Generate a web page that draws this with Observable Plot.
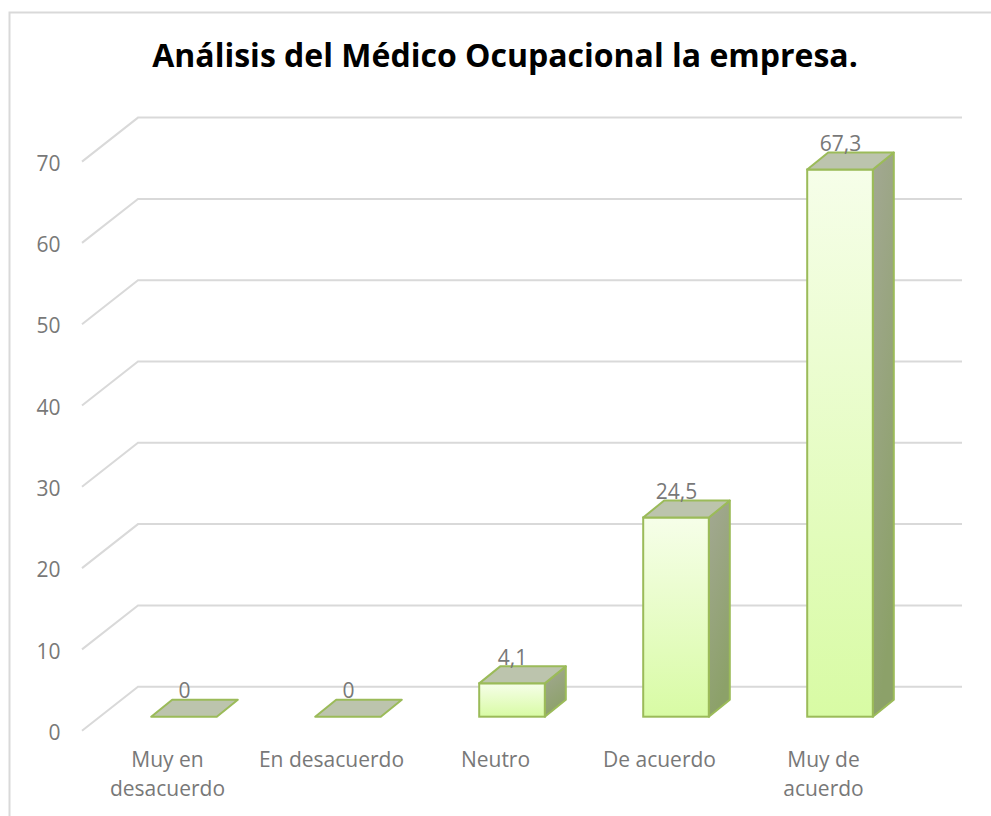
<!DOCTYPE html>
<html>
<head>
<meta charset="utf-8">
<script src="https://cdn.jsdelivr.net/npm/d3@7"></script>
<script src="https://cdn.jsdelivr.net/npm/@observablehq/plot@0.6"></script>
<style>
  html, body { margin: 0; padding: 0; background: #ffffff; }
  #chart { width: 991px; height: 816px; overflow: hidden; }
</style>
</head>
<body>
<div id="chart"></div>
<script>
// ---- data ----
const title = "Análisis del Médico Ocupacional la empresa.";
const categories = ["Muy en desacuerdo", "En desacuerdo", "Neutro", "De acuerdo", "Muy de acuerdo"];
const categoryLabels = ["Muy en\ndesacuerdo", "En desacuerdo", "Neutro", "De acuerdo", "Muy de\nacuerdo"];
const values = [0, 0, 4.1, 24.5, 67.3];
const valueLabels = ["0", "0", "4,1", "24,5", "67,3"];
const yTicks = [0, 10, 20, 30, 40, 50, 60, 70];

const rows = categories.map((c, i) => ({category: c, label: categoryLabels[i], value: values[i], text: valueLabels[i]}));

// ---- styling ----
const font = "'Open Sans', 'DejaVu Sans', sans-serif";
const textGray = "#787878";
const gridGray = "#d9d9d9";
const green = "#9bbb59";
// 3D projection offsets (pixels)
const floorFront = {dx: -18, dy: 14};
const floorBack = {dx: 38, dy: -30};
const barDepth = {dx: 21, dy: -17};
const barFrac = 0.4;

function gridMark(index, scales) {
  const {x, y} = scales;
  const r = x.range();
  const x0 = Math.min(...r), x1 = Math.max(...r);
  const g = d3.create("svg:g");
  for (const t of yTicks) {
    const yy = y(t);
    g.append("path")
      .attr("d", `M${x0 + floorFront.dx},${yy + floorFront.dy}L${x0 + floorBack.dx},${yy + floorBack.dy}H${x1 + floorBack.dx}`)
      .attr("fill", "none")
      .attr("stroke", gridGray)
      .attr("stroke-width", 2);
  }
  return g.node();
}

function barsMark(index, scales) {
  const {x, y} = scales;
  const bw = x.bandwidth();
  const g = d3.create("svg:g");
  const defs = g.append("defs");
  const fg = defs.append("linearGradient").attr("id", "frontGrad").attr("x1", 0).attr("y1", 0).attr("x2", 0).attr("y2", 1);
  fg.append("stop").attr("offset", "0%").attr("stop-color", "#f6fee9");
  fg.append("stop").attr("offset", "100%").attr("stop-color", "#d8fba4");
  const sg = defs.append("linearGradient").attr("id", "sideGrad").attr("x1", 0).attr("y1", 0).attr("x2", 0.3).attr("y2", 1);
  sg.append("stop").attr("offset", "0%").attr("stop-color", "#a3a893");
  sg.append("stop").attr("offset", "100%").attr("stop-color", "#8ca169");
  for (const d of rows) {
    const cx = x(d.category) + bw / 2;
    const w = bw * barFrac;
    const xa = cx - w / 2, xb = cx + w / 2;
    const yb = y(0), yt = y(d.value);
    const dx = barDepth.dx, dy = barDepth.dy;
    if (yb - yt > 0.5) {
      g.append("path")
        .attr("d", `M${xb},${yt}L${xb + dx},${yt + dy}L${xb + dx},${yb + dy}L${xb},${yb}Z`)
        .attr("fill", "url(#sideGrad)").attr("stroke", green).attr("stroke-width", 2).attr("stroke-linejoin", "round");
      g.append("rect")
        .attr("x", xa).attr("y", yt).attr("width", w).attr("height", yb - yt)
        .attr("fill", "url(#frontGrad)").attr("stroke", green).attr("stroke-width", 2);
    }
    g.append("path")
      .attr("d", `M${xa},${yt}L${xa + dx},${yt + dy}L${xb + dx},${yt + dy}L${xb},${yt}Z`)
      .attr("fill", "#bcc4ad").attr("stroke", green).attr("stroke-width", 2).attr("stroke-linejoin", "round");
  }
  return g.node();
}

const chart = Plot.plot({
  width: 991,
  height: 816,
  margin: 0,
  style: {background: "#ffffff", fontFamily: font, overflow: "hidden"},
  x: {type: "band", domain: categories, range: [100, 924], padding: 0, axis: null},
  y: {type: "linear", domain: [0, 70], range: [716.7, 147.6], axis: null},
  marks: [
    Plot.frame({stroke: gridGray, strokeWidth: 2, insetLeft: 9, insetTop: 12, insetRight: -10, insetBottom: -10}),
    gridMark,
    Plot.text(yTicks, {y: d => d, text: d => String(d), frameAnchor: "left", dx: 60, dy: 16, textAnchor: "end", fill: textGray, fontSize: 21}),
    barsMark,
    Plot.text(rows, {x: "category", y: "value", text: "text", dy: -26, fill: textGray, fontSize: 21}),
    Plot.text(rows, {x: "category", y: () => 0, text: "label", dx: -17, dy: 30, lineAnchor: "top", lineHeight: 1.36, fill: textGray, fontSize: 21}),
    Plot.text([title], {text: d => d, frameAnchor: "top", dx: 9, dy: 56, lineAnchor: "middle", fill: "#000000", fontSize: 32, fontWeight: "bold"})
  ]
});
document.getElementById("chart").appendChild(chart);
</script>
</body>
</html>
